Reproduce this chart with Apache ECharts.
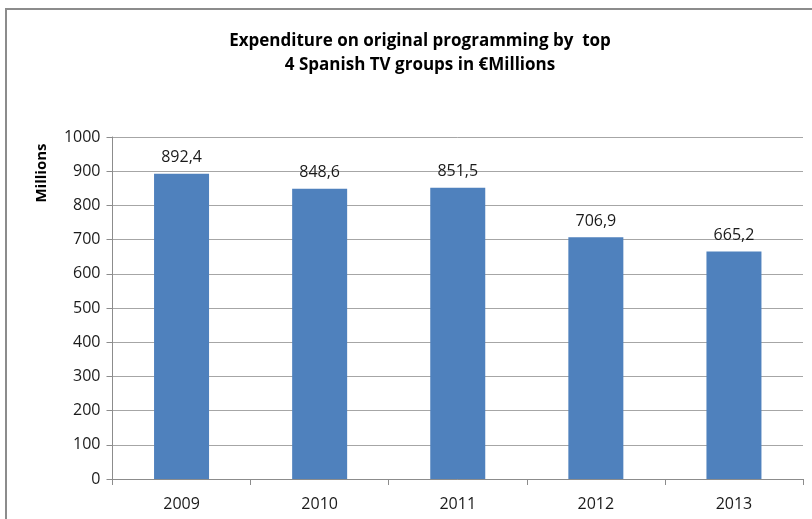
<!DOCTYPE html>
<html>
<head>
<meta charset="utf-8">
<script src="https://cdn.jsdelivr.net/npm/echarts@6/dist/echarts.min.js"></script>
<style>
  html, body { margin: 0; padding: 0; background: #fff; }
  #chart { width: 812px; height: 519px; }
</style>
</head>
<body>
<div id="chart"></div>
<script>
// Spending of the four largest Spanish TV groups on original programming
const years = ['2009', '2010', '2011', '2012', '2013'];
const spending = [892.4, 848.6, 851.5, 706.9, 665.2];
const yTicks = [0, 100, 200, 300, 400, 500, 600, 700, 800, 900, 1000];

const titleFont = '"Liberation Sans Narrow", "Open Sans", sans-serif';
const labelFont = '"Open Sans", "Noto Sans", sans-serif';

const chart = echarts.init(document.getElementById('chart'), null, { renderer: 'canvas' });

chart.setOption({
  animation: false,
  backgroundColor: '#ffffff',
  title: {
    text: 'Expenditure on original programming by  top\n4 Spanish TV groups in €Millions',
    left: 415,
    top: 24,
    textAlign: 'center',
    textStyle: {
      fontFamily: titleFont,
      fontWeight: 'bold',
      fontSize: 17,
      lineHeight: 24,
      color: '#000000'
    }
  },
  graphic: [
    {
      type: 'rect',
      shape: { x: 6, y: 9, width: 900, height: 600 },
      style: { fill: 'none', stroke: '#8c8c8c', lineWidth: 2 },
      silent: true
    },
    {
      type: 'text',
      x: 42,
      y: 173,
      rotation: Math.PI / 2,
      style: {
        text: 'Millions',
        fontFamily: titleFont,
        fontWeight: 'bold',
        fontSize: 15,
        fill: '#000000',
        align: 'center',
        verticalAlign: 'middle'
      }
    }
  ],
  grid: {
    left: 112.5,
    right: 9,
    top: 137,
    bottom: 40,
    containLabel: false
  },
  xAxis: {
    type: 'category',
    data: years,
    boundaryGap: true,
    axisLine: { show: true, lineStyle: { color: '#8c8c8c', width: 1 } },
    axisTick: { show: true, alignWithLabel: false, length: 6, lineStyle: { color: '#8c8c8c' } },
    axisLabel: {
      margin: 17,
      fontFamily: labelFont,
      fontSize: 16,
      color: '#1a1a1a'
    },
    splitLine: { show: false }
  },
  yAxis: {
    type: 'value',
    min: yTicks[0],
    max: yTicks[yTicks.length - 1],
    interval: 100,
    axisLine: { show: true, lineStyle: { color: '#8c8c8c', width: 1 } },
    axisTick: { show: true, inside: false, length: 6, lineStyle: { color: '#8c8c8c' } },
    axisLabel: {
      margin: 12,
      fontFamily: labelFont,
      fontSize: 16,
      color: '#1a1a1a',
      formatter: v => String(v)
    },
    splitLine: { show: true, lineStyle: { color: '#a6a6a6', width: 1 } }
  },
  series: [
    {
      type: 'bar',
      data: spending,
      barWidth: 55,
      itemStyle: { color: '#4f81bd' },
      label: {
        show: true,
        position: 'top',
        distance: 8,
        fontFamily: labelFont,
        fontSize: 16,
        color: '#1a1a1a',
        formatter: p => p.value.toFixed(1).replace('.', ',')
      }
    }
  ]
});
</script>
</body>
</html>
